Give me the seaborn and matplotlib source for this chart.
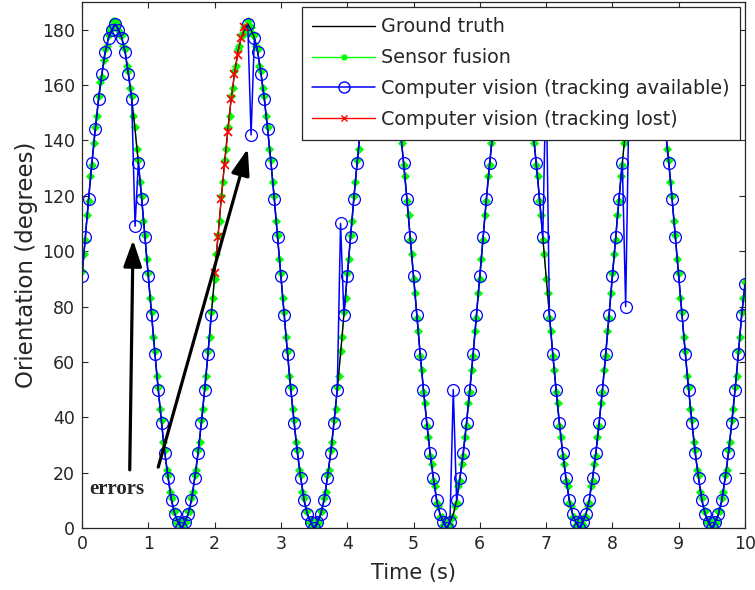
import numpy as np
import pandas as pd
import matplotlib
matplotlib.use("Agg")
import matplotlib.pyplot as plt
from matplotlib.lines import Line2D
import seaborn as sns

# ==============================
# data
# ==============================

# ground truth orientation, one value every 0.05 s (0 .. 10 s)
gt_deg = [
    91, 105, 119, 132, 144, 155, 164, 172, 177, 180, 182, 180, 177, 172, 164, 155, 144, 132, 119, 105,
    91, 77, 63, 50, 38, 27, 18, 10, 5, 2, 0, 2, 5, 10, 18, 27, 38, 50, 63, 77,
    91, 105, 119, 132, 144, 155, 164, 172, 177, 180, 182, 180, 177, 172, 164, 155, 144, 132, 119, 105,
    91, 77, 63, 50, 38, 27, 18, 10, 5, 2, 0, 2, 5, 10, 18, 27, 38, 50, 63, 77,
    91, 105, 119, 132, 144, 155, 164, 172, 177, 180, 182, 180, 177, 172, 164, 155, 144, 132, 119, 105,
    91, 77, 63, 50, 38, 27, 18, 10, 5, 2, 0, 2, 5, 10, 18, 27, 38, 50, 63, 77,
    91, 105, 119, 132, 144, 155, 164, 172, 177, 180, 182, 180, 177, 172, 164, 155, 144, 132, 119, 105,
    91, 77, 63, 50, 38, 27, 18, 10, 5, 2, 0, 2, 5, 10, 18, 27, 38, 50, 63, 77,
    91, 105, 119, 132, 144, 155, 164, 172, 177, 180, 182, 180, 177, 172, 164, 155, 144, 132, 119, 105,
    91, 77, 63, 50, 38, 27, 18, 10, 5, 2, 0, 2, 5, 10, 18, 27, 38, 50, 63, 77,
    88,
]

# sensor fusion estimate, one value every 0.025 s
sf_deg = [
    93, 99, 104, 113, 118, 127, 131, 139, 145, 149, 156, 161, 163, 169, 173, 174, 178, 180, 181, 183,
    183, 182, 180, 178, 178, 174, 173, 167, 165, 159, 156, 149, 145, 137, 133, 125, 120, 111, 106, 97,
    92, 83, 78, 69, 64, 55, 51, 43, 39, 31, 28, 21, 19, 13, 11, 6, 6, 2, 3, 1,
    1, 0, 3, 2, 6, 6, 11, 13, 19, 21, 28, 31, 39, 43, 51, 55, 64, 69, 78, 83,
    90, 99, 106, 111, 120, 125, 133, 137, 145, 149, 156, 159, 165, 167, 173, 174, 178, 178, 181, 180,
    183, 180, 181, 178, 178, 174, 173, 167, 165, 159, 156, 149, 145, 137, 133, 125, 120, 111, 106, 97,
    92, 83, 78, 69, 64, 55, 51, 43, 39, 31, 28, 21, 19, 13, 11, 6, 6, 2, 3, 0,
    1, 0, 3, 2, 6, 6, 11, 13, 19, 21, 28, 31, 39, 43, 51, 55, 64, 69, 78, 83,
    92, 97, 106, 111, 120, 125, 133, 137, 145, 151, 154, 161, 163, 169, 171, 176, 176, 180, 179, 182,
    181, 182, 179, 180, 176, 176, 171, 169, 163, 161, 154, 151, 143, 139, 131, 127, 118, 113, 104, 99,
    90, 85, 76, 71, 62, 57, 49, 45, 37, 33, 26, 23, 17, 15, 9, 8, 4, 4, 1, 2,
    0, 2, 1, 4, 4, 8, 9, 15, 17, 23, 26, 33, 37, 45, 49, 57, 62, 71, 76, 85,
    90, 97, 104, 113, 118, 127, 131, 139, 143, 151, 154, 161, 163, 169, 171, 176, 176, 180, 179, 182,
    181, 182, 179, 180, 176, 176, 171, 169, 163, 161, 154, 151, 143, 139, 131, 127, 118, 113, 104, 99,
    90, 85, 76, 71, 62, 57, 49, 45, 37, 33, 26, 23, 17, 15, 9, 8, 4, 4, 1, 2,
    0, 2, 1, 4, 4, 8, 9, 15, 17, 23, 26, 33, 37, 45, 49, 57, 62, 71, 76, 85,
    92, 99, 104, 113, 118, 127, 131, 139, 145, 149, 156, 159, 165, 167, 173, 174, 178, 178, 181, 180,
    183, 180, 181, 178, 178, 174, 173, 167, 165, 159, 156, 149, 145, 137, 133, 125, 120, 111, 106, 97,
    92, 83, 78, 69, 64, 55, 51, 43, 39, 31, 28, 21, 19, 13, 11, 6, 6, 2, 3, 0,
    1, 0, 3, 2, 6, 6, 11, 13, 19, 21, 28, 31, 39, 43, 51, 55, 64, 69, 78, 83,
    89,
]

# computer vision, every 0.05 s; nan = tracking lost
nan = float("nan")
cv_deg = [
    91, 105, 119, 132, 144, 155, 164, 172, 177, 180, 182, 180, 177, 172, 164, 155, 109, 132, 119, 105,
    91, 77, 63, 50, 38, 27, 18, 10, 5, 2, 0, 2, 5, 10, 18, 27, 38, 50, 63, 77,
    nan, nan, nan, nan, nan, nan, nan, nan, nan, nan, 182, 142, 177, 172, 164, 155, 144, 132, 119, 105,
    91, 77, 63, 50, 38, 27, 18, 10, 5, 2, 0, 2, 5, 10, 18, 27, 38, 50, 110, 77,
    91, 105, 119, 132, 144, 155, 164, 172, 177, 180, 182, 180, 177, 172, 164, 155, 144, 132, 119, 105,
    91, 77, 63, 50, 38, 27, 18, 10, 5, 2, 0, 2, 50, 10, 18, 27, 38, 50, 63, 77,
    91, 105, 119, 132, 144, 155, 164, 172, 177, 180, 182, 180, 177, 172, 164, 155, 144, 132, 119, 105,
    165, 77, 63, 50, 38, 27, 18, 10, 5, 2, 0, 2, 5, 10, 18, 27, 38, 50, 63, 77,
    91, 105, 119, 132, 80, 155, 164, 172, 177, 180, 182, 180, 177, 172, 164, 155, 144, 132, 119, 105,
    91, 77, 63, 50, 38, 27, 18, 10, 5, 2, 0, 2, 5, 10, 18, 27, 38, 50, 63, 77,
    88,
]

# computer vision while tracking was lost (2.00 .. 2.45 s)
lost_t = [2.0, 2.05, 2.1, 2.15, 2.2, 2.25, 2.3, 2.35, 2.4, 2.45]
lost_deg = [92, 105, 119, 131, 143, 155, 164, 171, 177, 181]

t_gt = np.linspace(0, 10, len(gt_deg))
t_sf = np.linspace(0, 10, len(sf_deg))
t_cv = np.linspace(0, 10, len(cv_deg))

# split computer vision into runs so the gap stays a gap
cv = pd.DataFrame({"t": t_cv, "deg": cv_deg})
cv["seg"] = cv["deg"].isna().cumsum()
cv = cv.dropna()

# ==============================
# style
# ==============================
sns.set_theme(style="white", rc={
    "xtick.direction": "in", "ytick.direction": "in",
    "xtick.top": True, "ytick.right": True,
    "xtick.bottom": True, "ytick.left": True,
    "xtick.major.size": 4, "ytick.major.size": 4,
    "xtick.major.width": 0.8, "ytick.major.width": 0.8,
    "axes.edgecolor": "#262626", "axes.linewidth": 0.9,
})
plt.rcParams["font.family"] = ["DejaVu Sans"]

GREEN, BLUE, RED = "#00ff00", "#0000ff", "#ff0000"

fig = plt.figure(figsize=(7.55, 5.9), dpi=100)
ax = fig.add_axes([82 / 755, 1 - 528 / 590, 663 / 755, 526 / 590])

sns.lineplot(x=t_sf, y=sf_deg, color=GREEN, lw=0.8, marker="D", markersize=3.8,
             markeredgecolor=GREEN, markeredgewidth=0.6, estimator=None, sort=False, ax=ax)
sns.lineplot(x=t_gt, y=gt_deg, color="black", lw=1.0, estimator=None, sort=False, ax=ax)
sns.lineplot(data=cv, x="t", y="deg", units="seg", color=BLUE, lw=1.1, marker="o",
             markersize=8.5, markerfacecolor="none", markeredgecolor=BLUE,
             markeredgewidth=0.9, estimator=None, sort=False, ax=ax)
sns.lineplot(x=lost_t, y=lost_deg, color=RED, lw=0.8, marker="x", markersize=6,
             markeredgecolor=RED, markeredgewidth=1.2, estimator=None, sort=False, ax=ax)

ax.set_xlim(0, 10)
ax.set_ylim(0, 190)
ax.set_xticks(range(0, 11))
ax.set_yticks(range(0, 181, 20))
ax.tick_params(labelsize=12.5, pad=5)
ax.set_xlabel("Time (s)", fontsize=15, labelpad=7)
ax.set_ylabel("Orientation (degrees)", fontsize=16.5, labelpad=3)

# arrows pointing at the computer vision errors
arrow = dict(arrowstyle="-|>,head_length=0.8,head_width=0.28", color="black",
             lw=2.3, mutation_scale=20, shrinkA=0, shrinkB=0)
ax.annotate("", xy=(0.77, 104), xytext=(0.72, 21), arrowprops=arrow)
ax.annotate("", xy=(2.5, 137), xytext=(1.15, 22), arrowprops=arrow)
ax.text(0.53, 14, "errors", fontsize=15, fontweight="bold", ha="center", va="center",
        family=["Liberation Serif", "DejaVu Serif"])

handles = [
    Line2D([], [], color="black", lw=1.0),
    Line2D([], [], color=GREEN, lw=1.0, marker=".", markersize=7),
    Line2D([], [], color=BLUE, lw=1.1, marker="o", markersize=8, markerfacecolor="none",
           markeredgecolor=BLUE),
    Line2D([], [], color=RED, lw=1.0, marker="x", markersize=5, markeredgecolor=RED),
]
labels = ["Ground truth", "Sensor fusion", "Computer vision (tracking available)",
          "Computer vision (tracking lost)"]
leg = ax.legend(handles, labels, loc="upper right", fontsize=13.8, frameon=True,
                fancybox=False, framealpha=1, edgecolor="#262626", handlelength=3.3,
                handletextpad=0.3, labelspacing=0.62, borderpad=0.55, borderaxespad=0.25)
leg.get_frame().set_linewidth(0.9)

fig.savefig("out.png", dpi=100)
